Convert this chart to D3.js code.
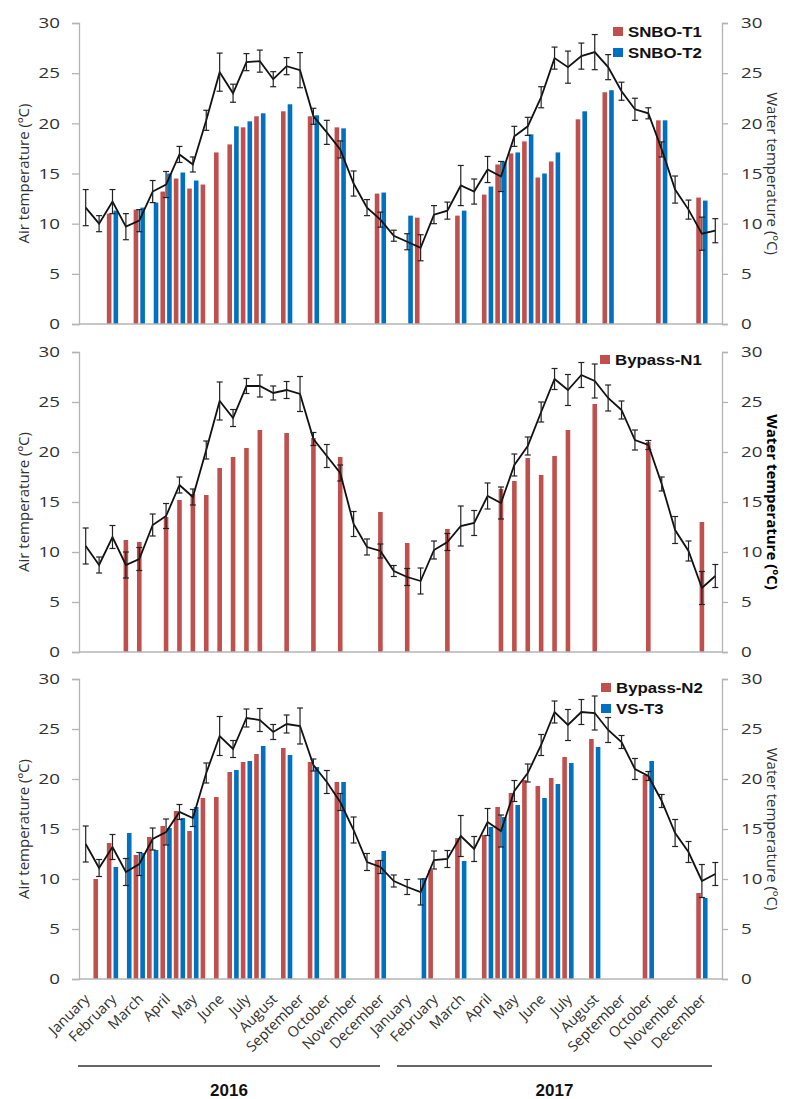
<!DOCTYPE html>
<html>
<head>
<meta charset="utf-8">
<script src="https://cdn.jsdelivr.net/npm/d3@7"></script>
<style>
  body { margin: 0; background: #fff; }
  svg { display: block; }
</style>
</head>
<body>
<svg id="chart" width="788" height="1099"></svg>
<script>
// categories: two samplings per month, Jan 2016 - Dec 2017
const years = [2016, 2017];
const months = ["January", "February", "March", "April", "May", "June", "July",
  "August", "September", "October", "November", "December"];
const halves = ["a", "b"];
const yTicks = [0, 5, 10, 15, 20, 25, 30];

// air temperature (mean, sd) per half month - panel 1
const airSNBO = [11.6, 10.0, 12.2, 9.7, 10.3, 13.2, 13.9, 16.9, 15.9, 20.3, 25.1, 23.0, 26.1, 26.2, 24.4, 25.7, 25.3, 20.7, 19.1, 17.4, 14.0, 11.6, 10.4, 8.8,
  8.2, 7.6, 10.9, 11.3, 13.8, 13.2, 15.4, 14.7, 18.7, 19.7, 22.6, 26.5, 25.6, 26.7, 27.1, 25.6, 23.2, 21.4, 21.0, 17.4, 13.4, 11.4, 9.0, 9.3];
const airSNBOsd = [1.8, 0.8, 1.2, 1.3, 1.1, 1.1, 1.3, 0.8, 0.75, 1.0, 1.9, 0.9, 0.85, 1.1, 0.75, 0.85, 1.75, 0.8, 1.2, 0.85, 1.25, 0.8, 0.75, 0.55,
  0.8, 1.3, 0.9, 0.85, 2.0, 1.25, 1.3, 1.5, 1.0, 0.9, 1.05, 1.1, 1.6, 1.3, 1.75, 1.25, 0.9, 1.1, 0.55, 0.75, 1.35, 0.95, 1.65, 1.2];
// panel 2
const airN1 = [10.6, 8.7, 11.5, 8.7, 9.3, 12.7, 13.6, 16.7, 15.5, 20.2, 25.1, 23.4, 26.6, 26.6, 25.9, 26.2, 25.8, 21.3, 19.6, 17.9, 12.8, 10.5, 10.1, 8.1,
  7.5, 7.1, 10.2, 11.0, 12.6, 12.9, 15.6, 14.9, 18.7, 20.6, 24.0, 27.3, 26.2, 27.7, 27.1, 25.4, 24.2, 21.2, 20.7, 16.8, 12.2, 10.1, 6.4, 7.6];
const airN1sd = [1.8, 0.8, 1.15, 1.3, 1.15, 1.1, 1.25, 0.8, 0.8, 0.9, 1.9, 0.85, 0.75, 1.1, 0.7, 0.85, 1.75, 0.65, 1.15, 0.8, 1.25, 0.8, 0.7, 0.55,
  0.85, 1.3, 0.9, 0.85, 2.0, 1.25, 1.3, 1.6, 1.1, 0.9, 1.0, 1.05, 1.55, 1.25, 1.7, 1.3, 0.9, 1.0, 0.45, 0.7, 1.35, 1.0, 1.65, 1.15];
// panel 3
const airN2 = [13.5, 11.1, 13.2, 10.7, 11.5, 14.0, 14.7, 16.7, 16.1, 20.6, 24.3, 23.0, 26.1, 25.9, 24.7, 25.5, 25.3, 21.4, 19.7, 17.7, 14.9, 11.7, 11.2, 9.8,
  9.2, 8.7, 11.9, 12.0, 14.3, 13.0, 15.7, 14.8, 18.8, 20.6, 23.4, 26.7, 25.4, 26.7, 26.6, 24.9, 23.7, 21.0, 20.3, 17.8, 14.6, 12.7, 9.8, 10.5];
const airN2sd = [1.8, 0.85, 1.25, 1.35, 1.15, 1.1, 1.3, 0.75, 0.85, 1.0, 1.95, 0.85, 0.9, 1.15, 0.75, 0.9, 1.8, 0.6, 1.15, 0.85, 1.3, 0.85, 0.65, 0.6,
  0.75, 1.3, 0.9, 0.85, 2.05, 1.25, 1.35, 1.6, 1.05, 0.9, 1.05, 1.1, 1.55, 1.25, 1.7, 1.25, 0.65, 1.05, 0.45, 0.65, 1.35, 1.05, 1.65, 1.15];

// water temperature, null = no sample
const _ = null;
const snboT1 = [_, _, 11.0, _, 11.4, _, 13.2, 14.5, 13.5, 13.9, 17.1, 17.9, 19.6, 20.7, _, 21.2, _, 20.7, _, 19.6, _, _, 13.0, _,
  _, 10.6, _, _, 10.8, _, 12.9, 15.9, 17.0, 18.2, 14.6, 16.2, _, 20.4, _, 23.1, _, _, _, 20.3, _, _, 12.6, _];
const snboT2 = [_, _, 11.3, _, 11.6, 12.1, 15.0, 15.1, 14.3, _, _, 19.7, 20.2, 21.0, _, 21.9, _, 20.8, _, 19.5, _, _, 13.1, _,
  10.8, _, _, _, 11.3, _, 13.7, 16.2, 17.1, 18.9, 15.0, 17.1, _, 21.2, _, 23.3, _, _, _, 20.3, _, _, 12.3, _];
const bypassN1 = [_, _, _, 11.2, 11.0, _, 13.5, 15.2, 15.8, 15.7, 18.4, 19.5, 20.4, 22.2, _, 21.9, _, 21.4, _, 19.5, _, _, 14.0, _,
  10.9, _, _, 12.3, _, _, _, 16.3, 17.1, 19.4, 17.7, 19.6, 22.2, _, 24.8, _, _, _, 21.0, _, _, _, 13.0, _];
const bypassN2 = [_, 10.0, 13.6, _, 12.4, 14.2, 15.3, 16.8, 14.8, 18.1, 18.2, 20.7, 21.7, 22.5, _, 23.1, _, 21.7, _, 19.7, _, _, 11.9, _,
  _, _, 10.9, _, 14.1, _, 14.4, 17.2, 18.6, 19.9, 19.3, 20.1, 22.2, _, 24.0, _, _, _, 20.4, _, _, _, 8.6, _];
const vsT3 = [_, _, 11.2, 14.6, 12.6, 12.9, 15.1, 16.1, 17.2, _, _, 20.9, 21.8, 23.3, _, 22.4, _, 21.2, _, 19.7, _, _, 12.8, _,
  _, 10.1, _, _, 11.8, _, 15.2, 16.2, 17.4, _, 18.1, 19.5, 21.6, _, 23.2, _, _, _, 21.8, _, _, _, 8.1, _];

const RED = "#c0504d", BLUE = "#0070c0";

const slots = [];
years.forEach(yr => months.forEach(m => halves.forEach(h => slots.push(`${yr}-${m}-${h}`))));

const panels = [
  { top: 23, bottom: 324, air: airSNBO, sd: airSNBOsd, boldRight: false,
    series: [{ name: "SNBO-T1", values: snboT1, color: RED }, { name: "SNBO-T2", values: snboT2, color: BLUE }],
    legend: { x: 613, y: 27 } },
  { top: 352, bottom: 652, air: airN1, sd: airN1sd, boldRight: true,
    series: [{ name: "Bypass-N1", values: bypassN1, color: RED }],
    legend: { x: 600, y: 355 } },
  { top: 679, bottom: 979, air: airN2, sd: airN2sd, boldRight: false,
    series: [{ name: "Bypass-N2", values: bypassN2, color: RED }, { name: "VS-T3", values: vsT3, color: BLUE }],
    legend: { x: 601, y: 683 } }
];

const svg = d3.select("#chart");
const left = 79, right = 722;

const x = d3.scaleBand().domain(slots).range([left, right]).padding(0);
const bw = x.bandwidth();
const xc = k => x(k) + bw / 2;
const barW = 4.6;

// the source figure is stretched sideways, so widen horizontal text a bit
function stretch(sel, f) {
  sel.each(function() {
    const len = this.getComputedTextLength();
    d3.select(this).attr("textLength", len * f).attr("lengthAdjust", "spacingAndGlyphs");
  });
}

panels.forEach(p => {
  const y = d3.scaleLinear().domain([0, 30]).range([p.bottom, p.top]);
  const g = svg.append("g");
  const sub = d3.scaleBand().domain(d3.range(p.series.length)).range([0, bw]);

  // bars
  p.series.forEach((s, j) => {
    const pts = slots.map((k, i) => ({ k, v: s.values[i] })).filter(d => d.v != null);
    g.selectAll(null).data(pts).enter().append("rect")
      .attr("x", d => (p.series.length === 1 ? xc(d.k) : x(d.k) + sub(j) + sub.bandwidth() / 2) - barW / 2)
      .attr("y", d => y(d.v))
      .attr("width", barW)
      .attr("height", d => y(0) - y(d.v))
      .attr("fill", s.color);
  });

  // axes
  const axL = g.append("g").attr("transform", `translate(${left},0)`)
    .call(d3.axisLeft(y).tickValues(yTicks).tickSize(7).tickPadding(12));
  const axR = g.append("g").attr("transform", `translate(${right},0)`)
    .call(d3.axisRight(y).tickValues(yTicks).tickSize(6).tickPadding(13));
  [axL, axR].forEach(a => {
    a.select(".domain").attr("stroke", "#b4b4b4").attr("stroke-width", 1.3);
    a.selectAll(".tick line").attr("stroke", "#b4b4b4").attr("stroke-width", 1.3);
    a.selectAll(".tick text").attr("font-family", "Open Sans").attr("font-size", 15).attr("fill", "#303030")
      .call(stretch, 1.25);
  });
  g.append("line").attr("x1", left).attr("x2", right).attr("y1", y(0)).attr("y2", y(0))
    .attr("stroke", "#b4b4b4").attr("stroke-width", 1.3);

  // air temperature line with error bars
  const line = d3.line().x((d, i) => xc(slots[i])).y(d => y(d));
  g.append("path").datum(p.air).attr("d", line)
    .attr("fill", "none").attr("stroke", "#111").attr("stroke-width", 1.8);
  const eb = g.selectAll(null).data(p.air.map((v, i) => ({ v, e: p.sd[i], k: slots[i] }))).enter().append("g")
    .attr("stroke", "#222").attr("stroke-width", 1.2);
  eb.append("line").attr("x1", d => xc(d.k)).attr("x2", d => xc(d.k))
    .attr("y1", d => y(d.v - d.e)).attr("y2", d => y(d.v + d.e));
  eb.append("line").attr("x1", d => xc(d.k) - 3).attr("x2", d => xc(d.k) + 3)
    .attr("y1", d => y(d.v - d.e)).attr("y2", d => y(d.v - d.e));
  eb.append("line").attr("x1", d => xc(d.k) - 3).attr("x2", d => xc(d.k) + 3)
    .attr("y1", d => y(d.v + d.e)).attr("y2", d => y(d.v + d.e));

  // axis titles
  const mid = (p.top + p.bottom) / 2;
  g.append("text").attr("transform", `translate(29,${mid}) rotate(-90)`)
    .attr("text-anchor", "middle").attr("font-family", "Open Sans").attr("font-size", 15)
    .attr("fill", "#303030").text("Air temperature (ºC)");
  g.append("text").attr("transform", `translate(767,${mid}) rotate(90)`)
    .attr("text-anchor", "middle").attr("font-family", "Open Sans").attr("font-size", 15)
    .attr("font-weight", p.boldRight ? "bold" : "normal")
    .attr("fill", p.boldRight ? "#000" : "#303030").text("Water temperature (ºC)");

  // legend
  const lg = g.append("g").attr("transform", `translate(${p.legend.x},${p.legend.y})`);
  p.series.forEach((s, j) => {
    lg.append("rect").attr("x", 0).attr("y", j * 21).attr("width", 10).attr("height", 9).attr("fill", s.color);
    lg.append("text").attr("x", 15).attr("y", j * 21 + 10).attr("font-family", "Liberation Sans, Arial")
      .attr("font-weight", "bold").attr("font-size", 14).attr("fill", "#111").text(s.name)
      .call(stretch, 1.2);
  });
});

// month labels under the bottom panel
const monthSlots = slots.filter(k => k.endsWith("-a"));
svg.append("g").selectAll("text").data(monthSlots).enter().append("text")
  .attr("transform", d => `translate(${xc(d) + 5},${1000}) rotate(-45)`)
  .attr("text-anchor", "end").attr("font-family", "Open Sans").attr("font-size", 14.5)
  .attr("fill", "#303030").text(d => d.split("-")[1]);

// year brackets
const yearSpans = [[78, 380], [397, 712]];
years.forEach((yr, i) => {
  const [a, b] = yearSpans[i];
  svg.append("line").attr("x1", a).attr("x2", b).attr("y1", 1066).attr("y2", 1066)
    .attr("stroke", "#666").attr("stroke-width", 2);
  svg.append("text").attr("x", (a + b) / 2).attr("y", 1096).attr("text-anchor", "middle")
    .attr("font-family", "Liberation Sans, Arial").attr("font-weight", "bold").attr("font-size", 17)
    .attr("fill", "#111").text(yr);
});
</script>
</body>
</html>
